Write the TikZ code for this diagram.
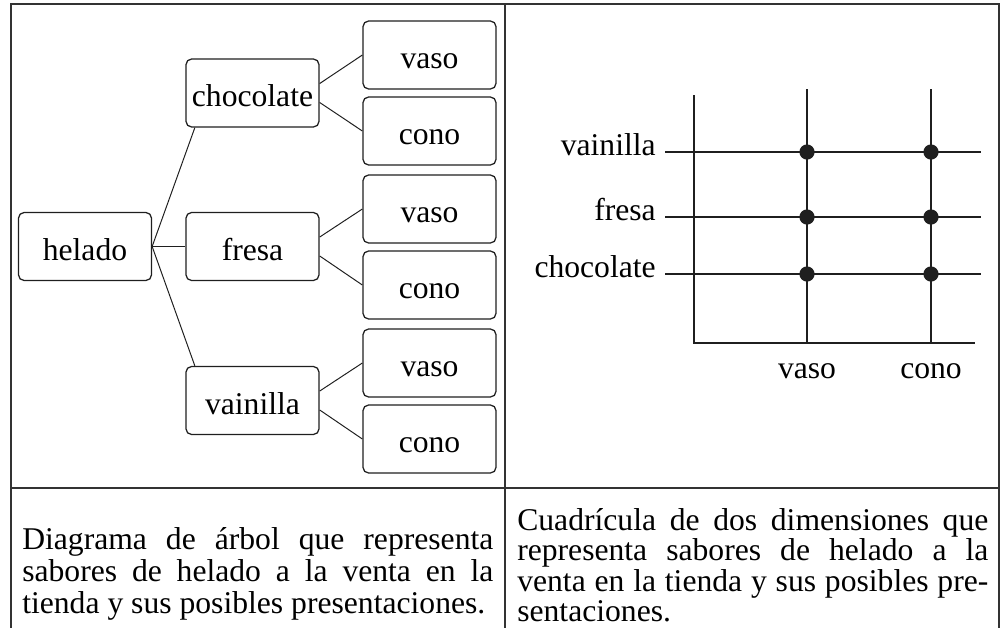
\documentclass[tikz,border=0pt]{standalone}
\usepackage{fontspec}
\setmainfont{Liberation Serif}
\usepackage{xcolor}
\usetikzlibrary{positioning,calc}
\colorlet{ink}{black!88}

\begin{document}
\begin{tikzpicture}[
  x=0.025cm, y=-0.025cm,
  font=\fontsize{22.5}{22}\selectfont,
  box/.style={draw=ink, line width=0.9pt, rounded corners=4pt, minimum width=3.325cm, minimum height=1.7cm,
    inner sep=0pt, text height=21pt, text depth=1.8pt},
  link/.style={draw=ink, line width=0.7pt},
  frame/.style={draw=black!80, line width=1.5pt},
  gridline/.style={draw=ink, line width=0.8pt},
  dot/.style={circle, fill=ink, inner sep=0pt, minimum size=0.38cm},
  caption/.style={text width=11.775cm, align=justify, inner sep=0pt, anchor=north west}
]
\useasboundingbox (0,0) rectangle (1001,627);

% table frame
\draw[frame] (11,640) -- (11,4) -- (999,4) -- (999,640);
\draw[frame] (505,4) -- (505,640);
\draw[frame] (11,488) -- (999,488);

% tree diagram
\node[box] (helado) at (85,246.5) {helado};
\node[box] (choc) at (252.5,93) {chocolate};
\node[box] (fresa) at (252.5,246.5) {fresa};
\node[box] (vain) at (252.5,400.5) {vainilla};
\node[box] (vasoA) at (429.5,55) {vaso};
\node[box] (conoA) at (429.5,131) {cono};
\node[box] (vasoB) at (429.5,209) {vaso};
\node[box] (conoB) at (429.5,285) {cono};
\node[box] (vasoC) at (429.5,363) {vaso};
\node[box] (conoC) at (429.5,439) {cono};

\draw[link] (helado.east) -- (choc.211);
\draw[link] (helado.east) -- (fresa.west);
\draw[link] (helado.east) -- (vain.149);
\draw[link] (choc.8) -- (vasoA.west);
\draw[link] (choc.-8) -- (conoA.west);
\draw[link] (fresa.8) -- (vasoB.west);
\draw[link] (fresa.-8) -- (conoB.west);
\draw[link] (vain.8) -- (vasoC.west);
\draw[link] (vain.-8) -- (conoC.west);

% two-dimensional grid
\draw[gridline] (694,95) -- (694,343) -- (975,343);
\draw[gridline] (807,89) -- (807,343);
\draw[gridline] (931,89) -- (931,343);
\draw[gridline] (665,152) -- (981,152);
\draw[gridline] (665,217) -- (981,217);
\draw[gridline] (665,274) -- (981,274);

\node[anchor=mid east, inner sep=0pt] (rowV) at (656,152) {vainilla};
\node[anchor=mid east, inner sep=0pt] (rowF) at (656,217) {fresa};
\node[anchor=mid east, inner sep=0pt] (rowC) at (656,274) {chocolate};
\node[anchor=base, inner sep=0pt] (colVaso) at (807,378) {vaso};
\node[anchor=base, inner sep=0pt] (colCono) at (931,378) {cono};

\node[dot] (dotVV) at (807,152) {};
\node[dot] (dotVF) at (807,217) {};
\node[dot] (dotVC) at (807,274) {};
\node[dot] (dotCV) at (931,152) {};
\node[dot] (dotCF) at (931,217) {};
\node[dot] (dotCC) at (931,274) {};

% captions
\node[caption, font=\fontsize{22.5}{22.8}\selectfont] (capTree) at (22,527) {Diagrama de árbol que representa\linebreak
  sabores de helado a la venta en la\linebreak tienda y sus posibles presentaciones.};
\node[caption, font=\fontsize{22.5}{21.6}\selectfont] (capGrid) at (517,508) {Cuadrícula de dos dimensiones que\linebreak
  representa sabores de helado a la\linebreak venta en la tienda y sus posibles pre-\linebreak
  sentaciones.};
\end{tikzpicture}
\end{document}
